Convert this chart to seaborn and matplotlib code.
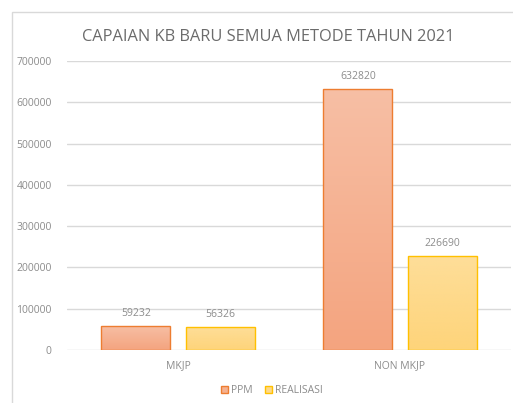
import numpy as np
import pandas as pd
import matplotlib
matplotlib.use("Agg")
import matplotlib.pyplot as plt
import seaborn as sns
from matplotlib.patches import Rectangle
from matplotlib.colors import LinearSegmentedColormap

categories = ["MKJP", "NON MKJP"]
series = ["PPM", "REALISASI"]
ppm = [59232, 632820]
realisasi = [56326, 226690]
yticks = [0, 100000, 200000, 300000, 400000, 500000, 600000, 700000]
title = "CAPAIAN KB BARU SEMUA METODE TAHUN 2021"

df = pd.DataFrame({
    "cat": categories * 2,
    "series": [series[0]] * 2 + [series[1]] * 2,
    "val": ppm + realisasi,
})

sns.set_theme(style="white")
plt.rcParams["font.family"] = ["Open Sans", "DejaVu Sans"]

fig = plt.figure(figsize=(5.13, 4.03), dpi=100)
ax = fig.add_axes([0.1306, 0.1315, 0.8654, 0.7171])

fill = {"PPM": ("#F7BFA5", "#F4A47F"), "REALISASI": ("#FEDE99", "#FED47A")}
edge = {"PPM": "#ED7D31", "REALISASI": "#FFC000"}
palette = {"PPM": "#F5B190", "REALISASI": "#FED98A"}

sns.barplot(data=df, x="cat", y="val", hue="series", hue_order=series,
            order=categories, palette=palette, width=0.76, gap=0.184,
            ax=ax, legend=False, saturation=1)

ax.set_xlim(-0.5, 1.5)
ax.set_ylim(0, 700000)
ax.set_yticks(yticks)
ax.set_yticklabels([str(v) for v in yticks])
ax.yaxis.grid(True, color="#D9D9D9", linewidth=1.0)
ax.set_axisbelow(True)
for s in ax.spines.values():
    s.set_visible(False)
ax.tick_params(axis="y", length=0, pad=11, labelsize=7.5, labelcolor="#8C8C8C")
ax.tick_params(axis="x", length=0, pad=7, labelsize=7.5, labelcolor="#8C8C8C")
ax.set_xlabel("")
ax.set_ylabel("")

# gradient fills
for container, name in zip(ax.containers, series):
    cmap = LinearSegmentedColormap.from_list(name, [fill[name][1], fill[name][0]])
    for bar in container:
        x0, y0 = bar.get_x(), bar.get_y()
        w, h = bar.get_width(), bar.get_height()
        bar.set_facecolor("none")
        bar.set_edgecolor(edge[name])
        bar.set_linewidth(1.0)
        grad = np.linspace(0, 1, 256).reshape(-1, 1)
        im = ax.imshow(grad, extent=[x0, x0 + w, y0, y0 + h], origin="lower",
                       cmap=cmap, aspect="auto", zorder=bar.get_zorder() - 0.1)
        im.set_clip_path(bar)
    ax.bar_label(container, labels=[str(int(v)) for v in container.datavalues],
                 padding=5, fontsize=7.5, color="#8C8C8C")
ax.set_xlim(-0.5, 1.5)
ax.set_ylim(0, 700000)

fig.text(0.5237, 0.908, title, ha="center", va="center", fontsize=11.8,
         color="#6B6B6B")

# legend
handles = [Rectangle((0, 0), 1, 1, facecolor=palette[s], edgecolor=edge[s], linewidth=1.0)
           for s in series]
fig.legend(handles, series, loc="center", bbox_to_anchor=(0.53, 0.03), ncol=2,
           frameon=False, fontsize=7.5, labelcolor="#8C8C8C", handlelength=0.7,
           handleheight=0.7, handletextpad=0.3, columnspacing=1.2)

# chart border
fig.add_artist(Rectangle((12 / 513, -0.1), 1.2, 1 - 12 / 403 + 0.1,
                         transform=fig.transFigure, fill=False,
                         edgecolor="#D9D9D9", linewidth=1.0))

fig.savefig("out.png", dpi=100)
